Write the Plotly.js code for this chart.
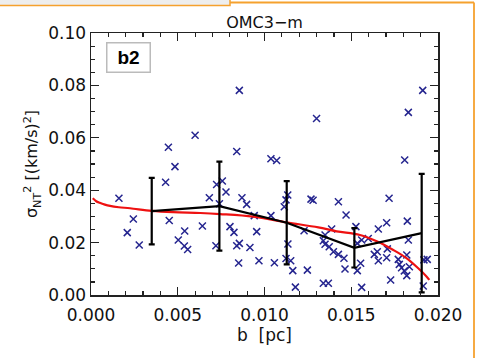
<!DOCTYPE html>
<html><head><meta charset="utf-8">
<script src="https://cdn.plot.ly/plotly-3.0.1.min.js"></script>
<style>html,body{margin:0;padding:0;background:#fff}#chart{width:477px;height:358px}</style>
</head><body><div id="chart"></div>
<script>
// scatter points: b [pc], sigma_NT^2 [(km/s)^2]
var bPts = [0.00161,0.00244,0.00209,0.00278,0.0043,0.00446,0.00484,0.0060,0.00451,0.0054,
  0.00503,0.00538,0.00557,0.00642,0.00682,0.00724,0.00757,0.00778,0.0072,0.0074,
  0.0084,0.00855,0.00801,0.00824,0.0084,0.00855,0.00851,0.0087,0.00897,0.00916,
  0.00941,0.00955,0.00968,0.01037,0.0107,0.01037,0.01057,0.01114,0.01124,0.01134,
  0.01135,0.01124,0.01151,0.01163,0.01178,0.01228,0.01247,0.01268,0.0128,0.0130,
  0.01339,0.01368,0.01349,0.01339,0.01349,0.01373,0.01387,0.01397,0.01426,0.01458,
  0.01464,0.01426,0.0147,0.01527,0.01535,0.01554,0.01535,0.0156,0.0156,0.01598,
  0.01633,0.0165,0.01656,0.01656,0.01704,0.01718,0.01708,0.01704,0.01727,0.01771,
  0.01777,0.0179,0.01806,0.0182,0.01823,0.01829,0.0182,0.01835,0.01808,0.01829,
  0.01912,0.01919,0.01938,0.01915];
var sigPts = [0.0369,0.0290,0.0238,0.0191,0.0430,0.0564,0.0490,0.0610,0.0284,0.0244,
  0.0210,0.0187,0.0174,0.0263,0.0371,0.0422,0.0435,0.0393,0.0188,0.0348,
  0.0548,0.0781,0.0261,0.0239,0.0188,0.0197,0.0122,0.0371,0.0346,0.0181,
  0.0303,0.0242,0.0131,0.0520,0.0513,0.0303,0.0123,0.0337,0.0363,0.0382,
  0.0195,0.0139,0.0131,0.0093,0.0030,0.0245,0.0095,0.0366,0.0362,0.0674,
  0.0045,0.0045,0.0229,0.0207,0.0194,0.0184,0.0252,0.0165,0.0155,0.0140,
  0.0099,0.0356,0.0305,0.0261,0.0197,0.0121,0.0093,0.0029,0.0210,0.0216,
  0.0155,0.0165,0.0131,0.0252,0.0276,0.0369,0.0176,0.0142,0.0057,0.0136,
  0.0117,0.0104,0.0092,0.0074,0.0282,0.0210,0.0153,0.0108,0.0515,0.0697,
  0.0781,0.0134,0.0136,0.0034];
// binned means with error bars
var binB = [0.0035,0.0074,0.01128,0.01518,0.01906];
var binMean = [0.0320,0.0339,0.0276,0.0180,0.0236];
var binErr = [0.0127,0.0170,0.0159,0.0075,0.0226];
// fitted model curve
var fitB = [0.0001,0.0003,0.0005,0.0008,0.0011,0.0016,0.00225,0.0035,0.00474,0.0063,
  0.00744,0.00935,0.01128,0.0131,0.01416,0.0155,0.01647,0.01742,0.0182,0.01886,0.01935,0.0195];
var fitSig = [0.0369,0.0358,0.0352,0.0345,0.0340,0.0335,0.0331,0.0321,0.0316,0.0313,
  0.0309,0.0299,0.0277,0.0258,0.0243,0.0229,0.0205,0.0172,0.0140,0.0102,0.0070,0.0058];
var xTicks = [0.000,0.005,0.010,0.015,0.020];
var xTickText = ['0.000','0.005','0.010','0.015','0.020'];
var yTicks = [0.00,0.02,0.04,0.06,0.08,0.10];
var yTickText = ['0.00','0.02','0.04','0.06','0.08','0.10'];

var F = 'DejaVu Sans, sans-serif';
var traces = [
  {x:bPts, y:sigPts, type:'scatter', mode:'markers',
   marker:{symbol:'x-thin', size:7, color:'#25258f', line:{color:'#25258f', width:1.5}}, hoverinfo:'skip'},
  {x:fitB, y:fitSig, type:'scatter', mode:'lines', line:{color:'#ee1111', width:2.2, shape:'spline'}, hoverinfo:'skip'},
  {x:binB, y:binMean, type:'scatter', mode:'lines', line:{color:'#000', width:2.2},
   error_y:{type:'data', array:binErr, visible:true, color:'#000', thickness:2.2, width:3}, hoverinfo:'skip'}
];
var layout = {
  width:477, height:358, margin:{l:91, r:39, t:33, b:63},
  paper_bgcolor:'#fff', plot_bgcolor:'#fff', showlegend:false,
  font:{family:F, color:'#111', size:16},
  title:{text:'OMC3\u2212m', font:{family:F, size:16, color:'#111'}, x:0.5, xref:'paper', y:0.938, yanchor:'middle'},
  xaxis:{range:[0,0.020], tickvals:xTicks, ticktext:xTickText, ticks:'inside', ticklen:8, tickwidth:1.3, tickcolor:'#222',
    minor:{dtick:0.001, ticks:'inside', ticklen:4, tickwidth:1.2, tickcolor:'#222'},
    showline:true, linecolor:'#222', linewidth:1.5, mirror:'allticks', showgrid:false, zeroline:false,
    tickfont:{family:F, size:17, color:'#111'}, ticklabelstandoff:4,
    title:{text:'b  [pc]', font:{family:F, size:17, color:'#111'}, standoff:2}},
  yaxis:{range:[0,0.10], tickvals:yTicks, ticktext:yTickText, ticks:'inside', ticklen:8, tickwidth:1.3, tickcolor:'#222',
    minor:{dtick:0.005, ticks:'inside', ticklen:4, tickwidth:1.2, tickcolor:'#222'},
    showline:true, linecolor:'#222', linewidth:1.5, mirror:'allticks', showgrid:false, zeroline:false,
    tickfont:{family:F, size:17, color:'#111'},
    title:{text:'\u03c3<sub>NT</sub><sup>2</sup> [(km/s)<sup>2</sup>]', font:{family:F, size:16, color:'#111'}, standoff:6}},
  annotations:[{xref:'paper', yref:'paper', x:0.107, y:0.905, xanchor:'center', yanchor:'middle', text:'<b>b2</b>', showarrow:false,
    font:{family:'Liberation Sans, Arial, sans-serif', size:19, color:'#000'},
    bgcolor:'#fff', bordercolor:'#bbb', borderwidth:1.5, borderpad:0, width:42, height:28}],
  shapes:[
    {type:'rect', xref:'paper', yref:'paper', x0:-0.3, x1:(230-91)/347, y0:(295-0)/262+0.05, y1:(295-5.5)/262,
     fillcolor:'#eeeeee', line:{color:'#f5a12e', width:1.5}, layer:'above'},
    {type:'line', xref:'paper', yref:'paper', x0:(230-91)/347, x1:(474-91)/347, y0:(295-2.5)/262, y1:(295-2.5)/262,
     line:{color:'#f5a12e', width:1.8}},
    {type:'line', xref:'paper', yref:'paper', x0:(474-91)/347, x1:(474-91)/347, y0:(295-2.5)/262, y1:-0.3,
     line:{color:'#f5a12e', width:1.8}}
  ]
};
Plotly.newPlot('chart', traces, layout, {staticPlot:true, displayModeBar:false});
</script></body></html>
